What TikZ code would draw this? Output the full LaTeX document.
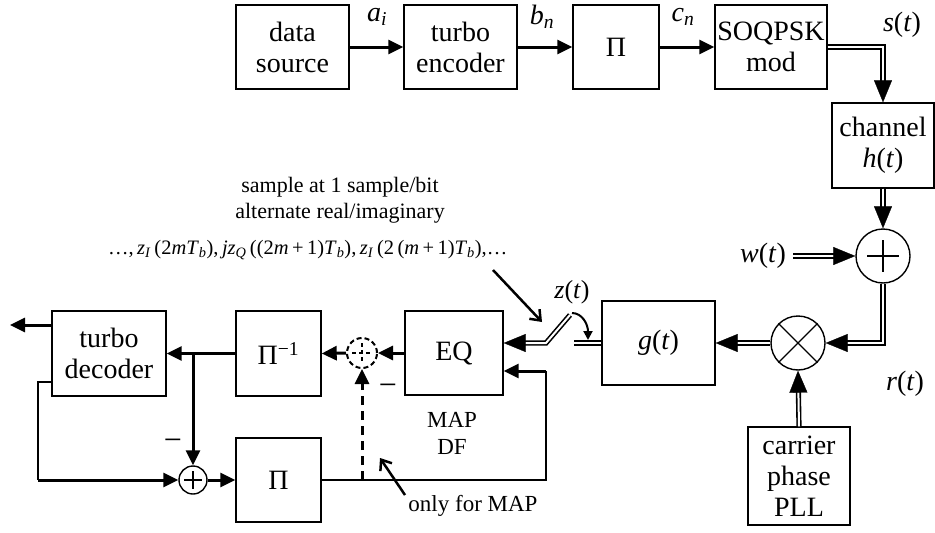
\documentclass[tikz,border=0pt]{standalone}
\usepackage{fontspec}
\setmainfont{Liberation Serif}
\usetikzlibrary{arrows.meta}

\newcommand\iv[1]{\textit{#1}}
\newcommand\sbs[1]{\textsubscript{\textit{#1}}}

\tikzset{
  blk/.style={draw, line width=1.4pt, inner sep=0pt, align=center,
    font=\fontsize{28}{31}\selectfont},
  junc/.style={draw, circle, line width=1.4pt, inner sep=0pt},
  lbl/.style={inner sep=0pt, font=\fontsize{28}{31}\selectfont},
  note/.style={inner sep=0pt, align=center, font=\fontsize{22}{26}\selectfont},
  sig/.style={line width=3pt, -{Triangle[length=15pt,width=14pt]}},
  dwire/.style={line width=1.6pt, double, double distance=2pt},
  dwireend/.style={dwire, shorten >=20pt},
  % solid head for a double line: a white hairline that hides in the white core
  dtip/.style={line width=0.3pt, white, -{Triangle[length=22pt,width=18pt,color=black]}},
  wire/.style={line width=1.4pt},
  pointer/.style={line width=2.5pt, -{Straight Barb[length=9pt,width=14pt]}},
}
% double line with a solid arrow head at its end
\newcommand\dblarrow[1]{\draw[dwireend] #1; \draw[dtip] #1;}

\begin{document}
\begin{tikzpicture}[x=1pt, y=-1pt]
\useasboundingbox (0,0) rectangle (935,533);

% ---------- transmitter row ----------
\node[blk, minimum width=113pt, minimum height=84pt] (src) at (292.5,47) {data\\source};
\node[blk, minimum width=113pt, minimum height=84pt] (enc) at (460.5,47) {turbo\\encoder};
\node[blk, minimum width=86pt,  minimum height=84pt] (pi1) at (616,47) {Π};
\node[blk, minimum width=112pt, minimum height=84pt] (mod) at (771,47) {SOQPSK\\mod};
\node[blk, minimum width=102pt, minimum height=85pt] (chan) at (883,145.5) {channel\\\iv{h}(\iv{t})};

\draw[sig] (src.east) -- (enc.west);
\draw[sig] (enc.east) -- (pi1.west);
\draw[sig] (pi1.east) -- (mod.west);

\node[lbl] (lai) at (377,17) {\iv{a}\sbs{i}};
\node[lbl] (lbn) at (542,17) {\iv{b}\sbs{n}};
\node[lbl] (lcn) at (683,17) {\iv{c}\sbs{n}};
\node[lbl] (lst) at (902,25) {\iv{s}(\iv{t})};

\dblarrow{(mod.east) -| (chan.north)}

% ---------- channel, noise and carrier recovery ----------
\node[junc, minimum size=54pt] (add) at (883,256) {};
\draw[line width=1.2pt] (add.center) +(-16,0) -- +(16,0) +(0,-16) -- +(0,16);
\node[lbl] (lwt) at (763,256) {\iv{w}(\iv{t})};
\dblarrow{(chan.south) -- (add.north)}
\dblarrow{([xshift=7pt]lwt.east) -- (add.west)}

\node[junc, minimum size=54pt] (mult) at (798,343) {};
\draw[line width=1.2pt] (mult.45) -- (mult.225) (mult.135) -- (mult.-45);
\dblarrow{(add.south) |- (mult.east)}
\node[lbl] (lrt) at (905,384) {\iv{r}(\iv{t})};

\node[blk, minimum width=102pt, minimum height=98pt] (pll) at (799,476) {carrier\\phase\\PLL};
\dblarrow{(pll.north) -- (mult.south)}

\node[blk, minimum width=113pt, minimum height=84pt] (gf) at (658.5,343) {\iv{g}(\iv{t})};
\dblarrow{(mult.west) -- (gf.east)}

% ---------- sampler switch ----------
\coordinate (swtop) at (570,315);
\coordinate (swpiv) at (546,343);
\coordinate (swc) at (574,343);
\node[blk, minimum width=98pt, minimum height=84pt] (eq) at (454,353) {EQ};
\dblarrow{(swtop) -- (swpiv) -- (eq.east |- swpiv)}
\draw[dwire] (swc) -- (gf.west |- swc);
\draw[line width=2pt, -{Triangle[length=9pt,width=9pt]}]
  (572,313) .. controls (582,313) and (588,324) .. (588,340);
\node[lbl, font=\fontsize{26}{30}\selectfont] (lzt) at (572,292) {\iv{z}(\iv{t})};

\node[note] (lsamp) at (340,200) {sample at 1 sample/bit\\alternate real/imaginary};
\node[note, anchor=west, font=\fontsize{20.5}{24}\selectfont] (lseq) at (108,250)
  {…,\,\iv{z}\sbs{I}\,(2\iv{mT}\sbs{b}),\,\iv{jz}\sbs{Q}\,((2\iv{m}\,+\,1)\iv{T}\sbs{b}),\,\iv{z}\sbs{I}\,(2\,(\iv{m}\,+\,1)\iv{T}\sbs{b}),…};
\coordinate (ptrA) at (493,270);
\coordinate (ptrB) at (542,322);
\draw[pointer] (ptrA) -- (ptrB);

% ---------- receiver back end ----------
\node[note, font=\fontsize{23}{27}\selectfont] (lmap) at (452,433) {MAP\\DF};

\node[junc, dash pattern=on 5pt off 3pt, line width=2pt, minimum size=30pt] (dsum) at (362,353) {};
\draw[line width=1.6pt, dash pattern=on 4pt off 3pt] (dsum.center) +(-10,0) -- +(10,0) +(0,-10) -- +(0,10);

\node[blk, minimum width=85pt, minimum height=85pt] (pinv) at (278.5,353.5) {Π\textsuperscript{−1}};
\node[blk, minimum width=114pt, minimum height=85pt] (dec) at (109,353.5) {turbo\\decoder};
\node[blk, minimum width=85pt, minimum height=84pt] (pi2) at (278.5,480) {Π};
\node[junc, minimum size=28pt] (sum2) at (193,480) {};
\draw[line width=1.2pt] (sum2.center) +(-9,0) -- +(9,0) +(0,-9) -- +(0,9);

\draw[sig] (eq.west) -- (dsum.east);
\draw[sig] (dsum.west) -- (pinv.west -| pinv.east);
\draw[sig] (pinv.west) -- (dec.east |- pinv.west);
\coordinate (jn) at (193,353.5);
\draw[sig] (jn) -- (sum2.north);
\draw[sig] (sum2.east) -- (pi2.west);

\coordinate (outL) at (10,325);
\draw[sig] (dec.west |- outL) -- (outL);

\coordinate (fbA) at (38,382);
\draw[wire] (dec.west |- fbA) -- (fbA) -- (fbA |- sum2.west);
\draw[sig] (fbA |- sum2.west) -- (sum2.west);

\coordinate (fbB) at (546,371);
\draw[wire] (pi2.east) -| (fbB);
\draw[sig] (fbB) -- (eq.east |- fbB);

\coordinate (tap) at (dsum.south |- pi2.east);
\draw[line width=3pt, dash pattern=on 9pt off 6pt, -{Triangle[length=15pt,width=14pt]}] (tap) -- (dsum.south);

\node[lbl, font=\fontsize{32}{32}\selectfont] (m1) at (173,445) {−};
\node[lbl, font=\fontsize{32}{32}\selectfont] (m2) at (388,390) {−};

\node[note, font=\fontsize{23}{27}\selectfont] (lonly) at (473,506) {only for MAP};
\coordinate (ptrC) at (405,495);
\coordinate (ptrD) at (380,458);
\draw[pointer] (ptrC) -- (ptrD);
\end{tikzpicture}
\end{document}
